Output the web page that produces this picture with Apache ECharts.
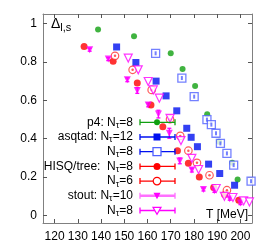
<!DOCTYPE html>
<html><head><meta charset="utf-8">
<script src="https://cdn.jsdelivr.net/npm/echarts@6/dist/echarts.min.js"></script>
<style>html,body{margin:0;padding:0;background:#fff}#c{width:274px;height:247px}</style>
</head><body><div id="c"></div>
<script>
// ---- data (T [MeV], Delta_l,s) ----
const p4_Nt8 = [[138.7,0.969],[154.2,0.934],[170.0,0.845],[175.1,0.763],[180.5,0.675],[185.7,0.527],[190.8,0.384],[196.5,0.274],[198.8,0.187]];
const asqtad_Nt12 = [[146.7,0.878],[155.0,0.797],[163.7,0.700],[168.0,0.623],[172.6,0.545],[176.9,0.454],[178.8,0.407],[181.5,0.358],[186.3,0.267],[191.1,0.218],[197.5,0.157]];
const asqtad_Nt8 = [[163.5,0.845],[174.8,0.716],[180.1,0.619],[185.6,0.499],[187.5,0.473],[189.5,0.428],[191.4,0.375],[194.2,0.323],[197.1,0.262],[204.6,0.178]];
const hisq_Nt8 = [[132.7,0.881],[145.2,0.803],[155.6,0.690],[161.5,0.576],[166.6,0.462],[172.9,0.337],[177.6,0.272],[182.3,0.200],[188.5,0.145],[193.2,0.108],[199.3,0.079]];
const hisq_Nt6 = [[146.0,0.832],[153.6,0.759],[161.8,0.654],[169.7,0.501],[174.1,0.414],[177.6,0.337],[181.3,0.274],[186.7,0.209],[194.2,0.131]];
const stout_Nt10 = [[135.1,0.864],[143.1,0.815],[151.3,0.707],[155.6,0.651],[160.3,0.576],[164.7,0.528],[169.4,0.428],[173.9,0.284],[179.1,0.236],[184.1,0.135],[188.8,0.128],[195.4,0.087],[200.0,0.064]];
const stout_Nt10_err = [0.008,0.008,0.01,0.015,0.01,0.02,0.026,0.015,0.01,0.008,0.008,0.008,0.008];
const stout_Nt8 = [[151.7,0.820],[156.0,0.759],[160.3,0.698],[162.5,0.654],[165.1,0.611],[169.7,0.506],[174.4,0.390],[179.1,0.297],[182.0,0.239],[189.6,0.140],[193.1,0.099],[196.8,0.093],[201.4,0.075],[203.9,0.070]];
const xTicks = [120,130,140,150,160,170,180,190,200];
const yTicks = [0,0.2,0.4,0.6,0.8,1];
const legendLabels = [
  ['p4: ','8'],['asqtad: ','12'],['','8'],['HISQ/tree:  ','8'],['','6'],['stout: ','10'],['','8']
];
const FONT = '"Liberation Sans", Arial, sans-serif';
const C = {green:'#10a010', blue:'#0010f0', lblue:'#5060ff', red:'#ff0000', red2:'#ff3030', mag:'#ff00ff', pink:'#ff70ff'};

const chart = echarts.init(document.getElementById('c'), null, {renderer:'canvas'});
const axisCol = '#808080';
function xAx(pos, showLabel){
  return {type:'value', position:pos, min:115, max:205,
    axisLine:{show:true, onZero:false, lineStyle:{color:axisCol, width:1}},
    axisTick:{show:true, inside:true, length:4, customValues:xTicks, lineStyle:{color:'#555'}},
    axisLabel:{show:showLabel, customValues:xTicks, fontSize:12, fontFamily:FONT, color:'#000', margin:8},
    splitLine:{show:false}};
}
function yAx(pos, showLabel){
  return {type:'value', position:pos, min:-0.04, max:1.05,
    axisLine:{show:true, onZero:false, lineStyle:{color:axisCol, width:1}},
    axisTick:{show:true, inside:true, length:4, customValues:yTicks, lineStyle:{color:'#555'}},
    axisLabel:{show:showLabel, customValues:yTicks, fontSize:12, fontFamily:FONT, color:'#000', margin:6,
      formatter:v=>String(Math.round(v*10)/10)},
    splitLine:{show:false}};
}
const dn = 180;
const errSeries = {
  type:'custom', xAxisIndex:0, yAxisIndex:0, z:5,
  data: stout_Nt10.map((p,i)=>[p[0],p[1],stout_Nt10_err[i]]),
  renderItem:(params, api)=>{
    const x=api.value(0), y=api.value(1), e=api.value(2);
    const a=api.coord([x,y-e]), b=api.coord([x,y+e]);
    return {type:'group', children:[
      {type:'line', shape:{x1:a[0],y1:a[1],x2:b[0],y2:b[1]}, style:{stroke:C.mag, lineWidth:1.3}},
      {type:'line', shape:{x1:b[0]-2,y1:b[1],x2:b[0]+2,y2:b[1]}, style:{stroke:C.mag, lineWidth:1.3}},
      {type:'line', shape:{x1:a[0]-2,y1:a[1],x2:a[0]+2,y2:a[1]}, style:{stroke:C.mag, lineWidth:1.3}}
    ]};
  }
};

// legend (gnuplot style, drawn as graphic)
const rowsY = [122.3,137,151.7,166.4,181.1,195.8,210.5];
const legMarkers = [
  {type:'circle', shape:{cx:0,cy:0,r:3}, style:{fill:C.green}, line:C.green},
  {type:'rect', shape:{x:-3.5,y:-3.5,width:7,height:7}, style:{fill:C.blue}, line:C.blue},
  {type:'rect', shape:{x:-4,y:-4,width:8,height:8}, style:{fill:'#fff', stroke:C.lblue, lineWidth:1.3}, line:C.blue},
  {type:'circle', shape:{cx:0,cy:0,r:3.5}, style:{fill:C.red}, line:C.red},
  {type:'circle', shape:{cx:0,cy:0,r:3.8}, style:{fill:'#fff', stroke:C.red, lineWidth:1.2}, line:C.red},
  {type:'polygon', shape:{points:[[-3.5,-3],[3.5,-3],[0,3.5]]}, style:{fill:C.mag}, line:C.pink},
  {type:'polygon', shape:{points:[[-4,-3.2],[4,-3.2],[0,3.8]]}, style:{fill:'#fff', stroke:C.mag, lineWidth:1.2}, line:C.mag}
];
const graphics = [];
legendLabels.forEach((lab,i)=>{
  const y = rowsY[i];
  graphics.push({type:'text', x:133, y:y, z:10, style:{
    text:'{a|'+lab[0]+'N}{s|τ}{a|='+lab[1]+'}', align:'right', verticalAlign:'middle',
    rich:{a:{fontSize:12, fontFamily:FONT, fill:'#000'}, s:{fontSize:9, fontFamily:FONT, fill:'#000', padding:[6,0,0,0]}}}});
  const m = legMarkers[i];
  const lw = (i===5)?2.5:1.3;
  graphics.push({type:'line', z:10, shape:{x1:140,y1:y,x2:175,y2:y}, style:{stroke:m.line, lineWidth:lw}});
  graphics.push({type:'line', z:10, shape:{x1:140,y1:y-3,x2:140,y2:y+3}, style:{stroke:m.line, lineWidth:1.3}});
  graphics.push({type:'line', z:10, shape:{x1:175,y1:y-3,x2:175,y2:y+3}, style:{stroke:m.line, lineWidth:1.3}});
  graphics.push({type:m.type, z:11, x:157, y:y, shape:m.shape, style:m.style});
});
graphics.push({type:'text', x:51, y:24, z:10, style:{
  text:'{a|Δ}{s|l,s}', align:'left', verticalAlign:'middle',
  rich:{a:{fontSize:14, fontFamily:FONT, fill:'#000'}, s:{fontSize:11, fontFamily:FONT, fill:'#000', padding:[7,0,0,0]}}}});
graphics.push({type:'text', x:248, y:215, z:10, style:{text:'T [MeV]', align:'right', verticalAlign:'middle', fontSize:12, fontFamily:FONT, fill:'#000'}});

chart.setOption({
  animation:false,
  backgroundColor:'#fff',
  grid:{left:43, right:22, top:14, bottom:24, containLabel:false},
  xAxis:[xAx('bottom',true), xAx('top',false)],
  yAxis:[yAx('left',true), yAx('right',false)],
  graphic:graphics,
  series:[
    {type:'scatter', data:p4_Nt8, symbol:'circle', symbolSize:6, itemStyle:{color:C.green}, z:2},
    {type:'scatter', data:asqtad_Nt12, symbol:'rect', symbolSize:7, itemStyle:{color:C.blue}, z:3},
    {type:'scatter', data:asqtad_Nt8, symbol:'rect', symbolSize:8, itemStyle:{color:'#fff', borderColor:C.lblue, borderWidth:1.3}, z:4},
    {type:'scatter', data:asqtad_Nt8, symbol:'rect', symbolSize:[2,4], itemStyle:{color:C.lblue}, z:4},
    {type:'scatter', data:hisq_Nt8, symbol:'circle', symbolSize:7, itemStyle:{color:C.red}, z:5},
    {type:'scatter', data:hisq_Nt6, symbol:'circle', symbolSize:7.5, itemStyle:{color:'#fff', borderColor:C.red2, borderWidth:1.2}, z:6},
    {type:'scatter', data:hisq_Nt6, symbol:'circle', symbolSize:2.5, itemStyle:{color:C.red2}, z:6},
    errSeries,
    {type:'scatter', data:stout_Nt10, symbol:'triangle', symbolRotate:dn, symbolSize:7, itemStyle:{color:C.mag}, z:7},
    {type:'scatter', data:stout_Nt8, symbol:'triangle', symbolRotate:dn, symbolSize:8, itemStyle:{color:'#fff', borderColor:C.mag, borderWidth:1.2}, z:8}
  ]
});
</script></body></html>
